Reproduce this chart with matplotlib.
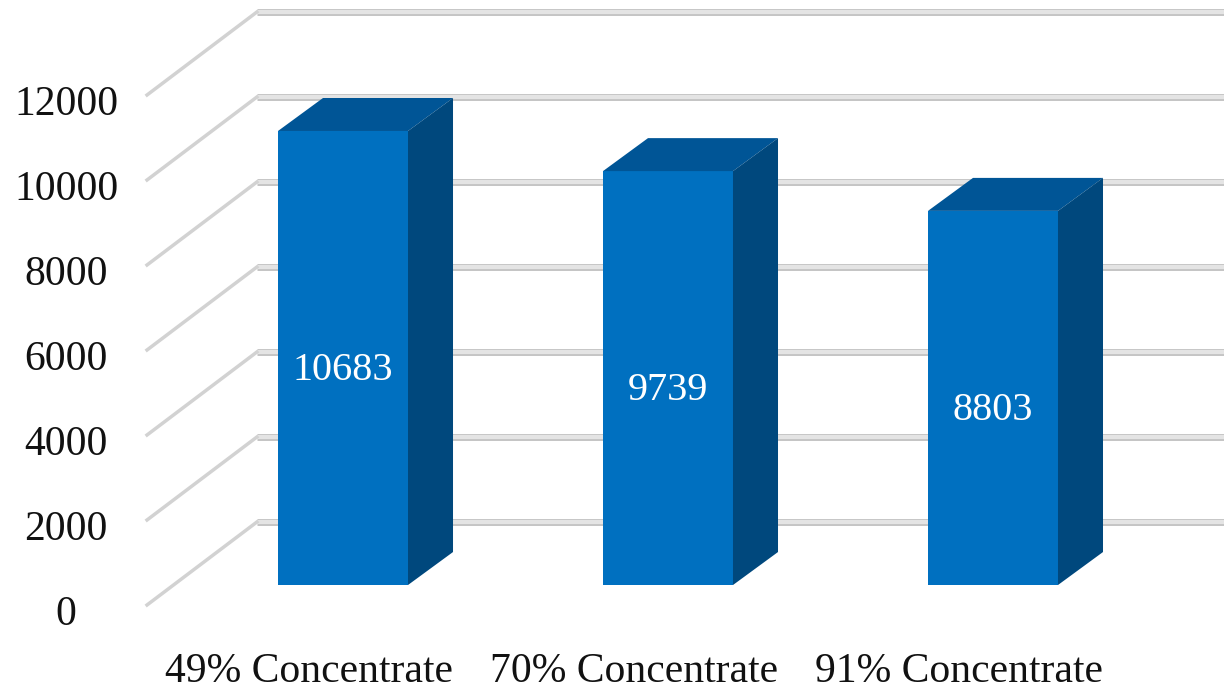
import matplotlib.pyplot as plt
from matplotlib.patches import Polygon

# datos
categorias = ["49% Concentrate", "70% Concentrate", "91% Concentrate"]
valores = [10683, 9739, 8803]
ticks_y = [0, 2000, 4000, 6000, 8000, 10000, 12000]

plt.rcParams['font.family'] = ['Liberation Serif', 'DejaVu Serif']

fig = plt.figure(figsize=(12.24, 6.91), dpi=100)
ax = fig.add_axes([0, 0, 1, 1])
ax.set_xlim(-1.0554, 2.7108)
ax.set_ylim(-2494, 13765)
ax.axis('off')

# geometria del efecto 3D (en unidades de datos)
x_frente, x_fondo = -0.603, -0.265
off_frente, off_fondo = -470, 1482
prof_x, prof_y = 0.1385, 776
ancho = 0.4

# rejilla: pared del fondo y diagonales del piso lateral
for t in ticks_y:
    ax.plot([x_fondo, 3.0], [t + off_fondo, t + off_fondo], color='#c4c4c4', lw=5,
            solid_capstyle='butt', zorder=1)
    ax.plot([x_fondo, 3.0], [t + off_fondo, t + off_fondo], color='#e4e4e4', lw=3,
            solid_capstyle='butt', zorder=1)
    ax.plot([x_frente, x_fondo], [t + off_frente, t + off_fondo], color='#d2d2d2', lw=2.5,
            zorder=1)
    ax.text(-0.852, t + off_frente - 230, str(t), ha='center', va='center',
            fontsize=30, color='#111111')

# barras
for i, v in enumerate(valores):
    izq = i - ancho / 2
    der = i + ancho / 2
    ax.bar(i, v, width=ancho, color='#0070c0', zorder=3)
    techo = Polygon([[izq, v], [izq + prof_x, v + prof_y], [der + prof_x, v + prof_y], [der, v]],
                    closed=True, facecolor='#005596', edgecolor='none', zorder=3)
    lado = Polygon([[der, 0], [der + prof_x, prof_y], [der + prof_x, v + prof_y], [der, v]],
                   closed=True, facecolor='#00487d', edgecolor='none', zorder=3)
    ax.add_patch(techo)
    ax.add_patch(lado)
    ax.text(i, v * 0.5 - 300, str(v), ha='center', va='center', fontsize=29,
            color='white', zorder=4)
    ax.text(i - 0.105, -2050, categorias[i], ha='center', va='center', fontsize=30,
            color='#111111')

plt.savefig('out.png', dpi=100)
